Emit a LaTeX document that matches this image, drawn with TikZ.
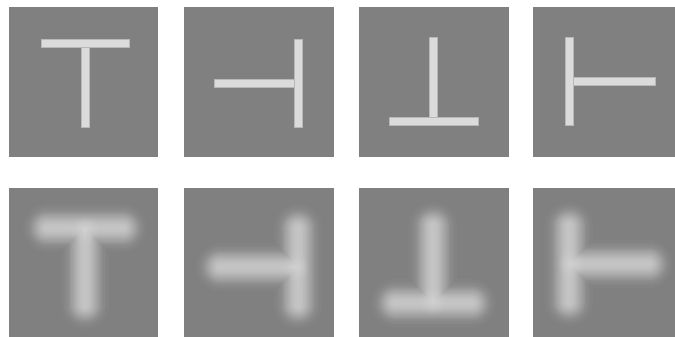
\documentclass[tikz,border=0pt]{standalone}
\definecolor{bgray}{gray}{0.5}
\definecolor{barc}{gray}{0.86}
\definecolor{baredge}{gray}{0.72}
\tikzset{
  panel/.style={fill=bgray, draw=none},
  barshape/.style={fill=barc, draw=baredge, line width=0.5pt},
  blurstroke/.style={draw=white, draw opacity=0.032, line cap=round, line join=round},
  blurblob/.style={fill=white, fill opacity=0.03, draw=none},
}
\def\blurwidths{47.6,42.4,39.2,36.7,34.4,32.9,31.0,29.6,28.3,27.1,25.8,24.6,23.5,22.6,21.5,20.5,19.4,18.5,17.3,16.4,15.5,14.4,13.2,12.1,10.9,9.8,8.4,6.8,4.8,2.4}
\def\blobradii{14,12,10,9,8,7,6,5,4,3,2}
\begin{document}
\begin{tikzpicture}[x=1pt,y=-1pt]
\useasboundingbox (0,0) rectangle (675,337);
\fill[white] (0,0) rectangle (675,337);
% panels
\foreach \xa/\xb in {9/158,184/334,359/509,533/675}{
  \path[panel] (\xa,7) rectangle (\xb,157);
  \path[panel] (\xa,188) rectangle (\xb,337);
}
% sharp T shapes (top row)
\path[barshape] (41,39) rectangle (129,47);
\path[barshape] (81,47) rectangle (89,127);
\path[barshape] (294,39) rectangle (302,127);
\path[barshape] (214,79) rectangle (294,87);
\path[barshape] (429,37) rectangle (437,117);
\path[barshape] (389,117) rectangle (478,125);
\path[barshape] (565,37) rectangle (573,125);
\path[barshape] (573,77) rectangle (655,85);
% blurred T shapes (bottom row)
\foreach \w in \blurwidths{
  \draw[blurstroke, line width=\w pt] (47,228) -- (123,228) (85,228) -- (85,305);
  \draw[blurstroke, line width=\w pt] (298,228) -- (298,305) (220,267) -- (298,267);
  \draw[blurstroke, line width=\w pt] (433,226) -- (433,303) (395,303) -- (472,303);
  \draw[blurstroke, line width=\w pt] (569,226) -- (569,302) (569,264) -- (649,264);
}
\foreach \r in \blobradii{
  \path[blurblob] (85,230) circle (\r pt);
  \path[blurblob] (296,267) circle (\r pt);
  \path[blurblob] (433,301) circle (\r pt);
  \path[blurblob] (571,264) circle (\r pt);
}
\end{tikzpicture}
\end{document}
